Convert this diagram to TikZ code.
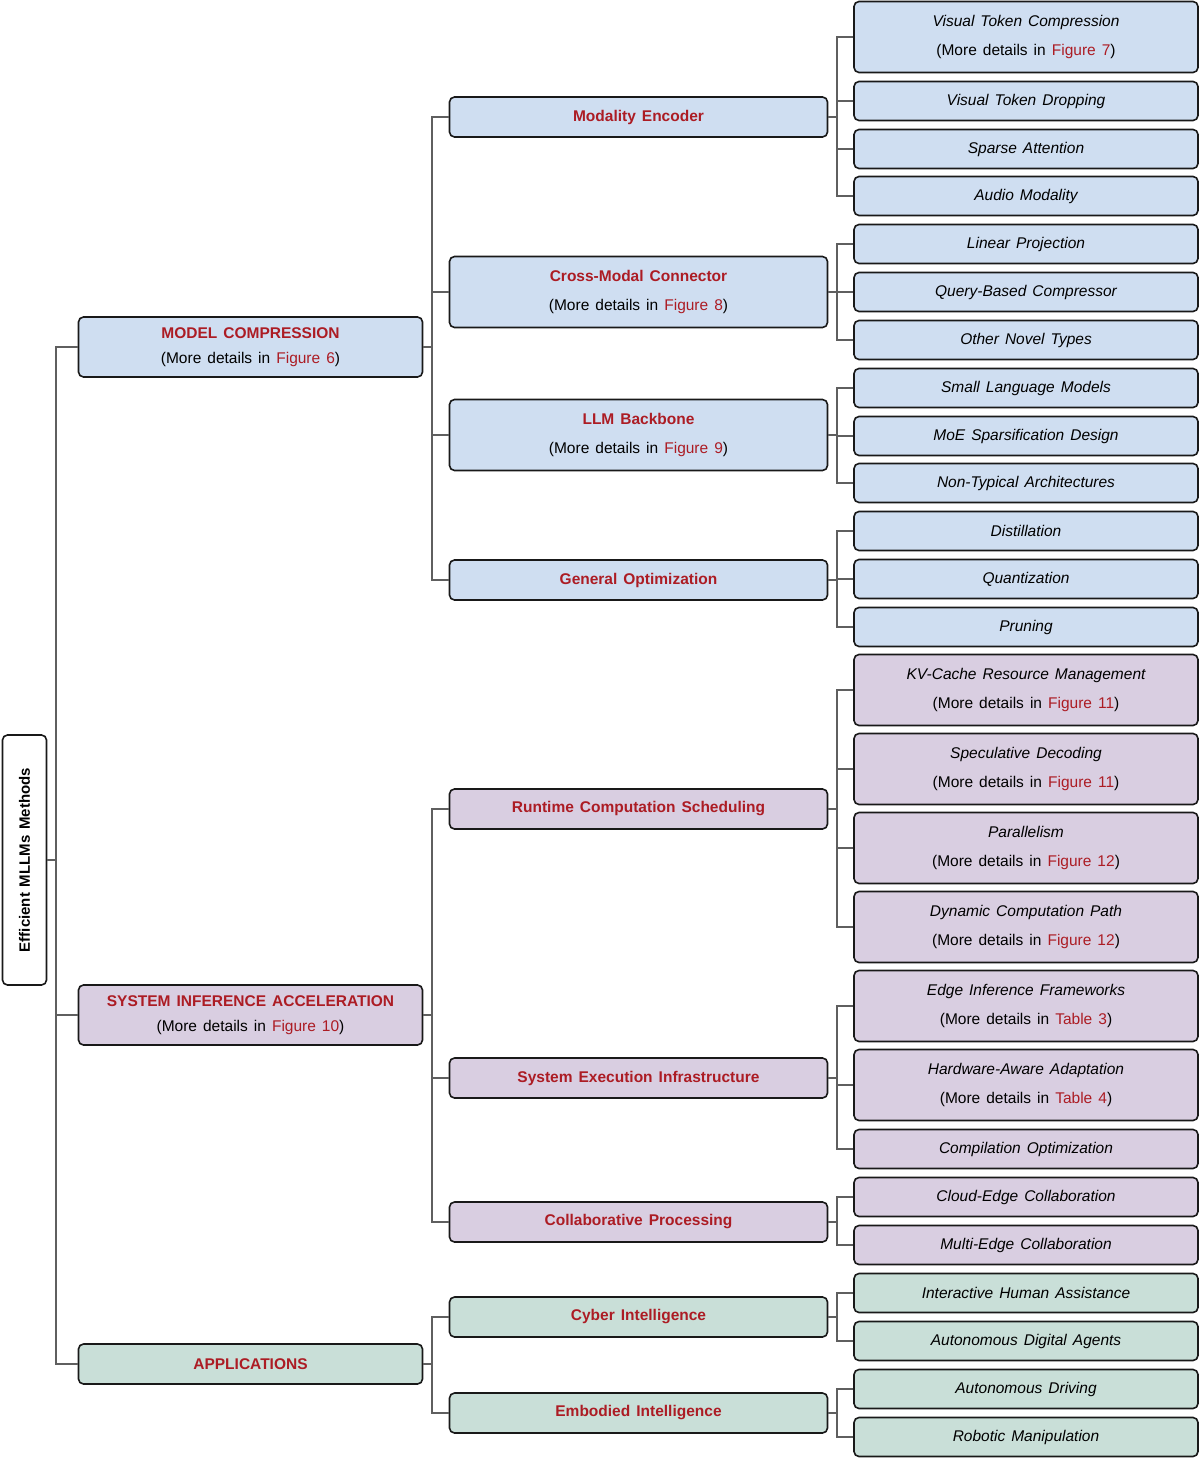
\documentclass[tikz,border=0pt]{standalone}
\usepackage{fontspec}
\setmainfont{Liberation Sans}[WordSpace={1.4}]
\definecolor{cb}{RGB}{207,222,241}
\definecolor{cp}{RGB}{217,206,225}
\definecolor{cg}{RGB}{201,223,216}
\definecolor{rd}{RGB}{172,28,36}
\definecolor{ln}{RGB}{95,95,95}
\newcommand{\rf}[1]{\textcolor{rd}{#1}}
\newcommand{\md}[1]{\textup{(More details in \rf{#1})}}
\tikzset{
 bx/.style={draw=black!90,line width=1.6pt,rounded corners=5pt,align=center,inner sep=0pt,font=\fontsize{15}{29}\selectfont},
 la/.style={bx,minimum width=344,font=\fontsize{15.5}{25}\selectfont},
 lb/.style={bx,minimum width=378,font=\fontsize{15.5}{29}\selectfont},
 lc/.style={bx,minimum width=344,font=\fontsize{15.5}{29.5}\selectfont\itshape},
 conn/.style={draw=ln,line width=2pt},
}
\begin{document}
\begin{tikzpicture}[x=1pt,y=-1pt]
\useasboundingbox (0,0) rectangle (1200,1458);
% root
\node[bx,minimum width=250,minimum height=44,rotate=90,font=\fontsize{15}{18}\selectfont\bfseries] (root) at (24.5,860) {Efficient MLLMs Methods};
% level 1
\node[la,fill=cb,minimum height=60] (mc) at (250.5,347) {\textcolor{rd}{\bfseries MODEL COMPRESSION}\\\md{Figure 6}};
\node[la,fill=cp,minimum height=60] (sia) at (250.5,1015) {\textcolor{rd}{\bfseries SYSTEM INFERENCE ACCELERATION}\\\md{Figure 10}};
\node[la,fill=cg,minimum height=40] (app) at (250.5,1364) {\textcolor{rd}{\bfseries APPLICATIONS}};
% level 2
\node[lb,fill=cb,minimum height=40] (me) at (638.5,117) {\textcolor{rd}{\bfseries Modality Encoder}};
\node[lb,fill=cb,minimum height=71] (cmc) at (638.5,292) {\textcolor{rd}{\bfseries Cross-Modal Connector}\\\md{Figure 8}};
\node[lb,fill=cb,minimum height=71] (llm) at (638.5,435) {\textcolor{rd}{\bfseries LLM Backbone}\\\md{Figure 9}};
\node[lb,fill=cb,minimum height=40] (go) at (638.5,580) {\textcolor{rd}{\bfseries General Optimization}};
\node[lb,fill=cp,minimum height=40] (rcs) at (638.5,809) {\textcolor{rd}{\bfseries Runtime Computation Scheduling}};
\node[lb,fill=cp,minimum height=40] (sei) at (638.5,1078) {\textcolor{rd}{\bfseries System Execution Infrastructure}};
\node[lb,fill=cp,minimum height=40] (cp) at (638.5,1222) {\textcolor{rd}{\bfseries Collaborative Processing}};
\node[lb,fill=cg,minimum height=40] (ci) at (638.5,1317) {\textcolor{rd}{\bfseries Cyber Intelligence}};
\node[lb,fill=cg,minimum height=40] (ei) at (638.5,1413) {\textcolor{rd}{\bfseries Embodied Intelligence}};
% level 3
\node[lc,fill=cb,minimum height=71] (a1) at (1026,37) {Visual Token Compression\\\md{Figure 7}};
\node[lc,fill=cb,minimum height=39] (a2) at (1026,101) {Visual Token Dropping};
\node[lc,fill=cb,minimum height=39] (a3) at (1026,149) {Sparse Attention};
\node[lc,fill=cb,minimum height=39] (a4) at (1026,196) {Audio Modality};
\node[lc,fill=cb,minimum height=39] (b1) at (1026,244) {Linear Projection};
\node[lc,fill=cb,minimum height=39] (b2) at (1026,292) {Query-Based Compressor};
\node[lc,fill=cb,minimum height=39] (b3) at (1026,340) {Other Novel Types};
\node[lc,fill=cb,minimum height=39] (c1) at (1026,388) {Small Language Models};
\node[lc,fill=cb,minimum height=39] (c2) at (1026,436) {MoE Sparsification Design};
\node[lc,fill=cb,minimum height=39] (c3) at (1026,483) {Non-Typical Architectures};
\node[lc,fill=cb,minimum height=39] (d1) at (1026,531) {Distillation};
\node[lc,fill=cb,minimum height=39] (d2) at (1026,579) {Quantization};
\node[lc,fill=cb,minimum height=39] (d3) at (1026,627) {Pruning};
\node[lc,fill=cp,minimum height=71] (e1) at (1026,690) {KV-Cache Resource Management\\\md{Figure 11}};
\node[lc,fill=cp,minimum height=71] (e2) at (1026,769) {Speculative Decoding\\\md{Figure 11}};
\node[lc,fill=cp,minimum height=71] (e3) at (1026,848) {Parallelism\\\md{Figure 12}};
\node[lc,fill=cp,minimum height=71] (e4) at (1026,927) {Dynamic Computation Path\\\md{Figure 12}};
\node[lc,fill=cp,minimum height=71] (f1) at (1026,1006) {Edge Inference Frameworks\\\md{Table 3}};
\node[lc,fill=cp,minimum height=71] (f2) at (1026,1085) {Hardware-Aware Adaptation\\\md{Table 4}};
\node[lc,fill=cp,minimum height=39] (f3) at (1026,1149) {Compilation Optimization};
\node[lc,fill=cp,minimum height=39] (g1) at (1026,1197) {Cloud-Edge Collaboration};
\node[lc,fill=cp,minimum height=39] (g2) at (1026,1245) {Multi-Edge Collaboration};
\node[lc,fill=cg,minimum height=39] (h1) at (1026,1293) {Interactive Human Assistance};
\node[lc,fill=cg,minimum height=39] (h2) at (1026,1341) {Autonomous Digital Agents};
\node[lc,fill=cg,minimum height=39] (i1) at (1026,1389) {Autonomous Driving};
\node[lc,fill=cg,minimum height=39] (i2) at (1026,1437) {Robotic Manipulation};
% connectors
\foreach \c in {mc,sia,app} { \draw[conn] (root.south) -- +(9,0) |- (\c.west); }
\foreach \p/\cs in {mc/{me,cmc,llm,go},sia/{rcs,sei,cp},app/{ci,ei},
  me/{a1,a2,a3,a4},cmc/{b1,b2,b3},llm/{c1,c2,c3},go/{d1,d2,d3},rcs/{e1,e2,e3,e4},
  sei/{f1,f2,f3},cp/{g1,g2},ci/{h1,h2},ei/{i1,i2}}{
  \foreach \c in \cs { \draw[conn] (\p.east) -- +(9,0) |- (\c.west); }
}
\end{tikzpicture}
\end{document}
